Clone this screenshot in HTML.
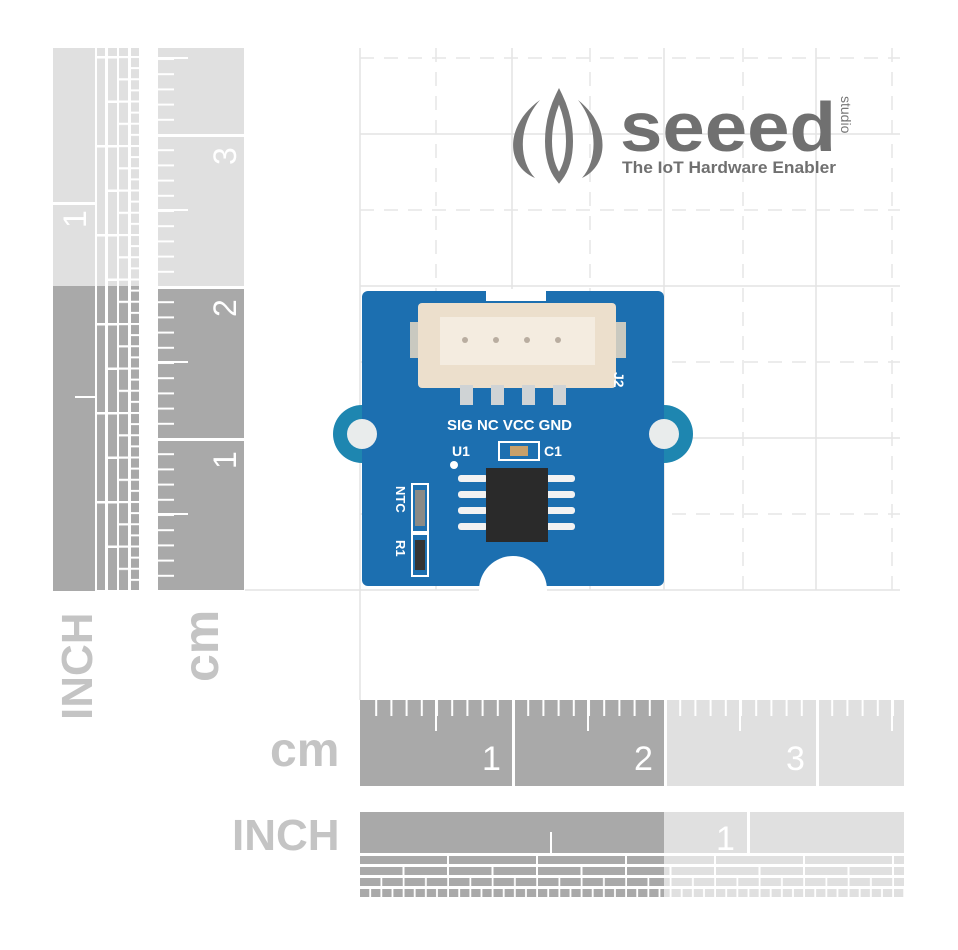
<!DOCTYPE html>
<html><head><meta charset="utf-8"><style>
html,body{margin:0;padding:0;background:#fff;}
svg{display:block;}
text{font-family:"Liberation Sans",sans-serif;}
</style></head><body>
<svg width="958" height="950" viewBox="0 0 958 950" xmlns="http://www.w3.org/2000/svg">
<defs>
  <pattern id="hmin" x="360" y="700" width="15.2" height="90" patternUnits="userSpaceOnUse"><rect x="0" y="0" width="2" height="16" fill="#fff"/></pattern>
  <pattern id="hmaj" x="360" y="700" width="152" height="90" patternUnits="userSpaceOnUse"><rect x="75" y="0" width="2" height="31" fill="#fff"/><rect x="0" y="0" width="3" height="90" fill="#fff"/></pattern>
  <pattern id="vmin" x="158" y="590" width="90" height="15.2" patternUnits="userSpaceOnUse"><rect x="0" y="0" width="16" height="2" fill="#fff"/></pattern>
  <pattern id="vmaj" x="158" y="590" width="90" height="152" patternUnits="userSpaceOnUse"><rect x="0" y="75" width="30" height="2" fill="#fff"/><rect x="0" y="0" width="90" height="3" fill="#fff"/></pattern>
  <pattern id="ih1" x="360" y="0" width="89" height="10" patternUnits="userSpaceOnUse"><rect x="87" y="0" width="2.5" height="10" fill="#fff"/></pattern>
  <pattern id="ih2" x="360" y="0" width="44.5" height="10" patternUnits="userSpaceOnUse"><rect x="42.5" y="0" width="2.5" height="10" fill="#fff"/></pattern>
  <pattern id="ih3" x="360" y="0" width="22.25" height="10" patternUnits="userSpaceOnUse"><rect x="20.5" y="0" width="2.2" height="10" fill="#fff"/></pattern>
  <pattern id="ih4" x="360" y="0" width="11.125" height="10" patternUnits="userSpaceOnUse"><rect x="9.3" y="0" width="2" height="10" fill="#fff"/></pattern>
  <pattern id="iv1" x="0" y="590" width="10" height="89" patternUnits="userSpaceOnUse"><rect x="0" y="0" width="10" height="2.5" fill="#fff"/></pattern>
  <pattern id="iv2" x="0" y="590" width="10" height="44.5" patternUnits="userSpaceOnUse"><rect x="0" y="0" width="10" height="2.5" fill="#fff"/></pattern>
  <pattern id="iv3" x="0" y="590" width="10" height="22.25" patternUnits="userSpaceOnUse"><rect x="0" y="0" width="10" height="2.2" fill="#fff"/></pattern>
  <pattern id="iv4" x="0" y="590" width="10" height="11.125" patternUnits="userSpaceOnUse"><rect x="0" y="0" width="10" height="2" fill="#fff"/></pattern>
</defs>

<g stroke="#e3e3e3" stroke-width="1.5">
  <line x1="360" y1="48" x2="360" y2="700"/>
  <line x1="512" y1="48" x2="512" y2="590"/>
  <line x1="664" y1="48" x2="664" y2="590"/>
  <line x1="816" y1="48" x2="816" y2="590"/>
  <line x1="245" y1="590" x2="900" y2="590"/>
  <line x1="360" y1="438" x2="900" y2="438"/>
  <line x1="360" y1="286" x2="900" y2="286"/>
  <line x1="360" y1="134" x2="900" y2="134"/>
</g>
<g stroke="#e6e6e6" stroke-width="1.5" stroke-dasharray="14 10">
  <line x1="436" y1="48" x2="436" y2="590"/>
  <line x1="590" y1="48" x2="590" y2="590"/>
  <line x1="743" y1="48" x2="743" y2="590"/>
  <line x1="892" y1="48" x2="892" y2="590"/>
  <line x1="360" y1="514" x2="900" y2="514"/>
  <line x1="360" y1="362" x2="900" y2="362"/>
  <line x1="360" y1="210" x2="900" y2="210"/>
  <line x1="360" y1="58" x2="900" y2="58"/>
</g>

<g fill="#777">
  <path d="M540 100 C505 125 505 165 535 178 C518 160 518 125 540 100Z"/>
  <path d="M578 100 C610 125 610 165 582 178 C598 160 598 125 578 100Z"/>
  <path d="M559 96 C545 125 545 160 559 178 C573 160 573 125 559 96Z" fill="none" stroke="#777" stroke-width="7"/>
</g>
<text x="620" y="151" font-size="70" font-weight="bold" fill="#707070" textLength="216" lengthAdjust="spacingAndGlyphs">seeed</text>
<text transform="translate(841,96) rotate(90)" font-size="14" fill="#777">studio</text>
<text x="622" y="173" font-size="16.5" font-weight="bold" fill="#707070" textLength="214" lengthAdjust="spacingAndGlyphs">The IoT Hardware Enabler</text>

<rect x="53" y="48" width="42" height="238" fill="#e0e0e0"/>
<rect x="53" y="286" width="42" height="305" fill="#a9a9a9"/>
<rect x="53" y="202" width="42" height="3" fill="#fff"/>
<g>
  <rect x="97" y="48" width="8" height="238" fill="#e0e0e0"/><rect x="97" y="286" width="8" height="305" fill="#a9a9a9"/>
  <rect x="108" y="48" width="9" height="238" fill="#e0e0e0"/><rect x="108" y="286" width="9" height="305" fill="#a9a9a9"/>
  <rect x="119" y="48" width="9" height="238" fill="#e0e0e0"/><rect x="119" y="286" width="9" height="305" fill="#a9a9a9"/>
  <rect x="131" y="48" width="8" height="238" fill="#e0e0e0"/><rect x="131" y="286" width="8" height="305" fill="#a9a9a9"/>
  <rect x="97" y="48" width="8" height="543" fill="url(#iv1)"/>
  <rect x="108" y="48" width="9" height="543" fill="url(#iv2)"/>
  <rect x="119" y="48" width="9" height="543" fill="url(#iv3)"/>
  <rect x="131" y="48" width="8" height="543" fill="url(#iv4)"/>
</g>
<rect x="75" y="396" width="20" height="2" fill="#fff"/>
<text transform="translate(86,228) rotate(-90)" font-size="32" fill="#fff">1</text>

<rect x="158" y="48" width="86" height="240" fill="#e0e0e0"/>
<rect x="158" y="288" width="86" height="303" fill="#a9a9a9"/>
<rect x="158" y="48" width="86" height="543" fill="url(#vmin)"/>
<rect x="158" y="48" width="86" height="543" fill="url(#vmaj)"/>
<text transform="translate(236,165) rotate(-90)" font-size="32" fill="#fff">3</text>
<text transform="translate(236,317) rotate(-90)" font-size="32" fill="#fff">2</text>
<text transform="translate(236,469) rotate(-90)" font-size="32" fill="#fff">1</text>

<text transform="translate(92,720) rotate(-90)" font-size="44" font-weight="bold" fill="#c4c4c4">INCH</text>
<text transform="translate(218,682) rotate(-90)" font-size="50" font-weight="bold" fill="#c4c4c4">cm</text>

<text x="270" y="766" font-size="48" font-weight="bold" fill="#c4c4c4">cm</text>
<rect x="360" y="700" width="304" height="86" fill="#a9a9a9"/>
<rect x="664" y="700" width="240" height="86" fill="#e0e0e0"/>
<rect x="360" y="700" width="544" height="86" fill="url(#hmin)"/>
<rect x="360" y="700" width="544" height="86" fill="url(#hmaj)"/>
<rect x="360" y="700" width="3" height="86" fill="#a9a9a9"/>
<text x="482" y="770" font-size="34" fill="#fff">1</text>
<text x="634" y="770" font-size="34" fill="#fff">2</text>
<text x="786" y="770" font-size="34" fill="#fff">3</text>

<text x="232" y="850" font-size="44" font-weight="bold" fill="#c4c4c4">INCH</text>
<rect x="360" y="812" width="304" height="41" fill="#a9a9a9"/>
<rect x="664" y="812" width="240" height="41" fill="#e0e0e0"/>
<rect x="747" y="812" width="3" height="41" fill="#fff"/>
<rect x="550" y="832" width="2" height="21" fill="#fff"/>
<text x="716" y="850" font-size="34" fill="#fff">1</text>
<g>
  <rect x="360" y="856" width="304" height="8" fill="#a9a9a9"/><rect x="664" y="856" width="240" height="8" fill="#e0e0e0"/>
  <rect x="360" y="867" width="304" height="8" fill="#a9a9a9"/><rect x="664" y="867" width="240" height="8" fill="#e0e0e0"/>
  <rect x="360" y="878" width="304" height="8" fill="#a9a9a9"/><rect x="664" y="878" width="240" height="8" fill="#e0e0e0"/>
  <rect x="360" y="889" width="304" height="8" fill="#a9a9a9"/><rect x="664" y="889" width="240" height="8" fill="#e0e0e0"/>
  <rect x="360" y="856" width="544" height="8" fill="url(#ih1)"/>
  <rect x="360" y="867" width="544" height="8" fill="url(#ih2)"/>
  <rect x="360" y="878" width="544" height="8" fill="url(#ih3)"/>
  <rect x="360" y="889" width="544" height="8" fill="url(#ih4)"/>
</g>

<g>
  <circle cx="362" cy="434" r="29" fill="#1e86b0"/>
  <circle cx="664" cy="434" r="29" fill="#1e86b0"/>
  <rect x="362" y="291" width="302" height="295" rx="6" fill="#1c6fb0"/>
  <rect x="486" y="289" width="60" height="12" fill="#fff"/>
  <circle cx="513" cy="590" r="34" fill="#fff"/>
  <circle cx="362" cy="434" r="15" fill="#e9ecec"/>
  <circle cx="664" cy="434" r="15" fill="#e9ecec"/>
  <rect x="410" y="322" width="14" height="36" fill="#c9c9c0"/>
  <rect x="612" y="322" width="14" height="36" fill="#c9c9c0"/>
  <rect x="418" y="303" width="198" height="85" rx="4" fill="#ecdfcc"/>
  <rect x="440" y="317" width="155" height="48" fill="#f4ece0"/>
  <rect x="460" y="365" width="110" height="22" fill="#ecdfcc"/>
  <g fill="#b9ada0"><circle cx="465" cy="340" r="3"/><circle cx="496" cy="340" r="3"/><circle cx="527" cy="340" r="3"/><circle cx="558" cy="340" r="3"/></g>
  <g fill="#cfd3d5"><rect x="460" y="385" width="13" height="20"/><rect x="491" y="385" width="13" height="20"/><rect x="522" y="385" width="13" height="20"/><rect x="553" y="385" width="13" height="20"/></g>
  <text x="447" y="430" font-size="15" font-weight="bold" fill="#fff">SIG NC VCC GND</text>
  <text transform="translate(614,372) rotate(90)" font-size="14" font-weight="bold" fill="#fff">J2</text>
  <text x="452" y="456" font-size="14" font-weight="bold" fill="#fff">U1</text>
  <text x="544" y="456" font-size="14" font-weight="bold" fill="#fff">C1</text>
  <rect x="499" y="442" width="40" height="18" fill="none" stroke="#fff" stroke-width="2"/>
  <rect x="510" y="446" width="18" height="10" fill="#c8a06a"/>
  <circle cx="454" cy="465" r="4" fill="#fff"/>
  <g fill="#f2f2f2">
    <rect x="458" y="475" width="30" height="7" rx="3"/><rect x="458" y="491" width="30" height="7" rx="3"/><rect x="458" y="507" width="30" height="7" rx="3"/><rect x="458" y="523" width="30" height="7" rx="3"/>
    <rect x="545" y="475" width="30" height="7" rx="3"/><rect x="545" y="491" width="30" height="7" rx="3"/><rect x="545" y="507" width="30" height="7" rx="3"/><rect x="545" y="523" width="30" height="7" rx="3"/>
  </g>
  <rect x="486" y="468" width="62" height="74" fill="#2a2a2a"/>
  <rect x="412" y="484" width="16" height="48" fill="none" stroke="#fff" stroke-width="2"/>
  <rect x="415" y="490" width="10" height="36" fill="#8a8a86"/>
  <rect x="412" y="534" width="16" height="42" fill="none" stroke="#fff" stroke-width="2"/>
  <rect x="415" y="540" width="10" height="30" fill="#333"/>
  <text transform="translate(396,486) rotate(90)" font-size="13" font-weight="bold" fill="#fff">NTC</text>
  <text transform="translate(396,540) rotate(90)" font-size="13" font-weight="bold" fill="#fff">R1</text>
</g>
</svg>
</body></html>
